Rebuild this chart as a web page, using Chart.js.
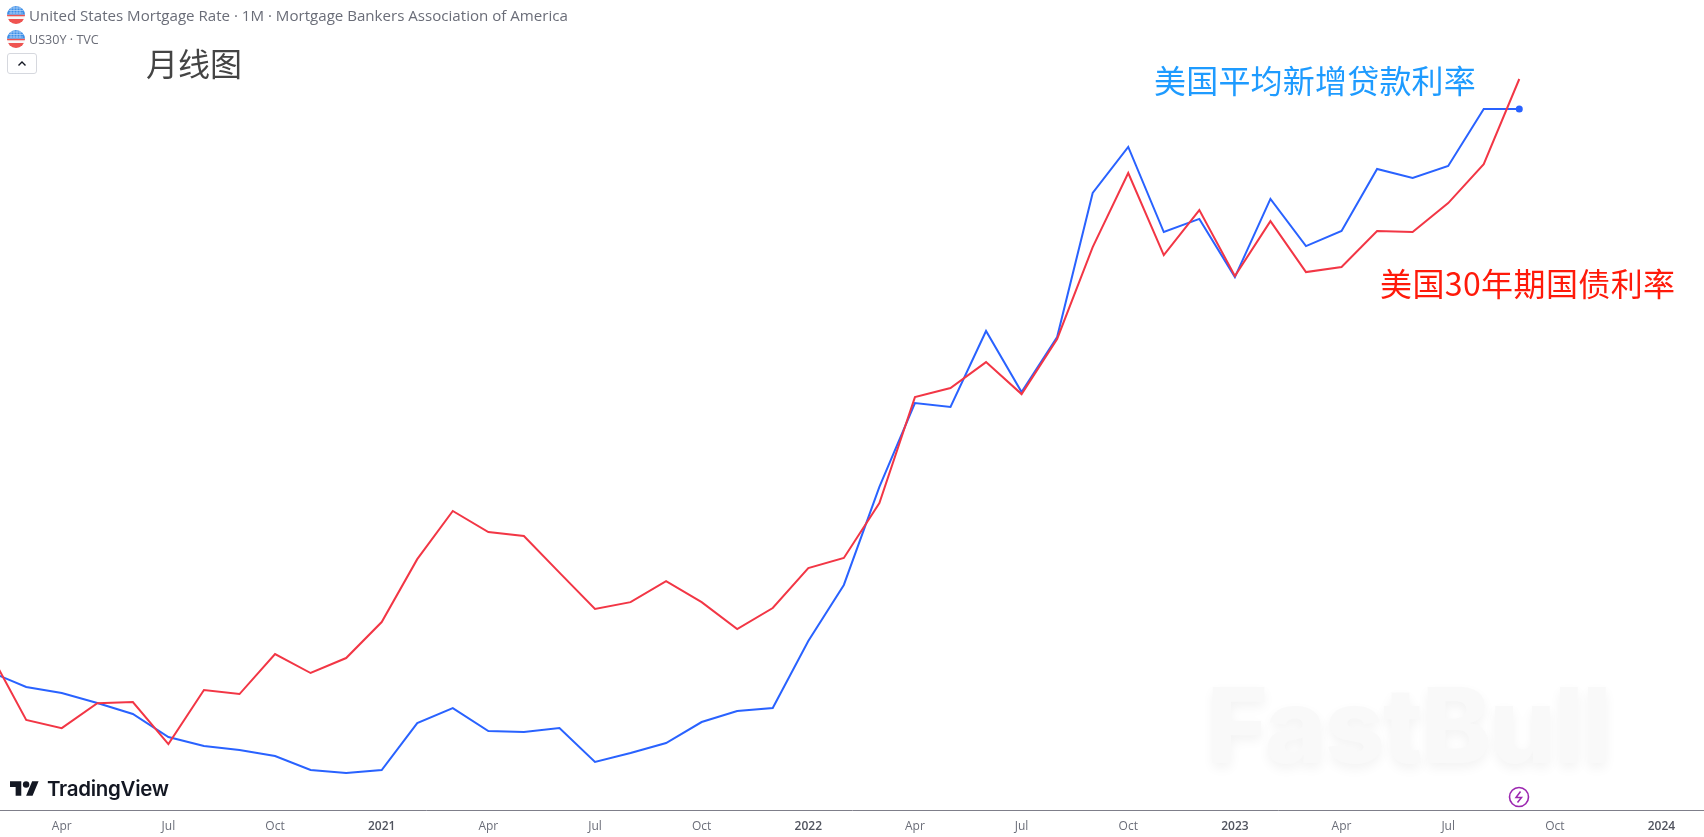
<!DOCTYPE html>
<html lang="zh">
<head>
    <title>US Mortgage Rate vs US30Y</title>
    <meta charset="utf-8" />
    <script src="https://cdn.jsdelivr.net/npm/chart.js"></script>
    <style>
        html, body { margin: 0; padding: 0; background: #fff; overflow: hidden; }
        #wrap { position: relative; width: 1704px; height: 837px; font-family: "Open Sans", "Noto Sans", sans-serif; }
        #chart { position: absolute; left: 0; top: 0; }
        .abs { position: absolute; white-space: nowrap; }
        .cjk { font-family: "Noto Sans CJK SC", sans-serif; font-size: 32px; line-height: 40px; }
        #watermark { left: 1207px; top: 660px; font-family: Inter, sans-serif; font-weight: 800; font-size: 104px; line-height: 130px;
                     color: #f9f9f9; text-shadow: 0 5px 12px #f3f3f3; letter-spacing: -1.4px; }
        #btn { left: 7px; top: 53px; width: 28px; height: 19px; border: 1px solid #d6d8de; border-radius: 3px; }
    </style>
</head>
<body>
<div id="wrap">
    <!-- marca de agua va debajo del canvas -->
    <div class="abs" id="watermark">FastBull</div>
    <canvas id="chart" width="1704" height="837"></canvas>

    <svg class="abs" style="left:7px;top:6px" width="18" height="18" viewBox="0 0 18 18"><use href="#flag"/></svg>
    <svg class="abs" style="left:7px;top:30px" width="18" height="18" viewBox="0 0 18 18">
        <defs>
            <clipPath id="round"><circle cx="9" cy="9" r="9"/></clipPath>
            <g id="flag" clip-path="url(#round)">
                <rect width="18" height="18" fill="#f7f7f7"/>
                <rect y="11" width="18" height="2.4" fill="#f7f7f7"/>
                <rect y="13" width="18" height="5" fill="#ef5350"/>
                <rect y="8.6" width="18" height="1.7" fill="#ef5350"/>
                <rect width="18" height="8.6" fill="#3d8fe8"/>
                <path d="M2 2h14M2 4.5h14M2 7h14M4 0v8M7 0v8M10 0v8M13 0v8" stroke="#cfe3fb" stroke-width=".6"/>
            </g>
        </defs>
        <use href="#flag"/>
    </svg>
    <div class="abs" style="left:29px;top:5px;font-size:15.1px;line-height:20px;color:#6a6d78">United States Mortgage Rate · 1M · Mortgage Bankers Association of America</div>
    <div class="abs" style="left:29px;top:31px;font-size:12.6px;line-height:18px;color:#6a6d78">US30Y · TVC</div>
    <div class="abs" id="btn">
        <svg width="28" height="19" viewBox="0 0 28 19"><path d="M10.5 11.5l3.5-3.5 3.5 3.5" fill="none" stroke="#131722" stroke-width="1.4"/></svg>
    </div>

    <div class="abs cjk" style="left:146px;top:42px;color:#444">月线图</div>
    <div class="abs cjk" style="left:1154px;top:59px;color:#1e9bff;letter-spacing:.2px">美国平均新增贷款利率</div>
    <div class="abs cjk" style="left:1380px;top:262px;color:#ff1a0a;letter-spacing:.4px">美国30年期国债利率</div>

    <svg class="abs" style="left:10px;top:778px" width="29" height="21" viewBox="0 0 36 26">
        <path d="M14 22H7V11H0V4h14v18zM28 22h-8l7.500-18h8L28 22z" fill="#131722"/><circle cx="20" cy="8" r="4" fill="#131722"/>
    </svg>
    <div class="abs" style="left:47px;top:775px;font-family:Inter,sans-serif;font-weight:600;font-size:20.5px;line-height:28px;color:#131722;letter-spacing:-.3px">TradingView</div>

    <svg class="abs" style="left:1508px;top:786px" width="22" height="22" viewBox="0 0 22 22">
        <circle cx="11" cy="11" r="9.500" fill="#fff" stroke="#9c27b0" stroke-width="1.600"/>
        <path d="M12.500 5.500L8 11.500h5.500L9.500 16.500" fill="none" stroke="#9c27b0" stroke-width="1.500"/>
    </svg>
</div>

<script>
    // Meses de feb 2020 a sep 2023
    const months = [
        '2020-02','2020-03','2020-04','2020-05','2020-06','2020-07','2020-08','2020-09','2020-10','2020-11','2020-12',
        '2021-01','2021-02','2021-03','2021-04','2021-05','2021-06','2021-07','2021-08','2021-09','2021-10','2021-11','2021-12',
        '2022-01','2022-02','2022-03','2022-04','2022-05','2022-06','2022-07','2022-08','2022-09','2022-10','2022-11','2022-12',
        '2023-01','2023-02','2023-03','2023-04','2023-05','2023-06','2023-07','2023-08','2023-09'
    ];

    // Valores (estimados)
    const mortgageRate = [
        3.557,3.452,3.410,3.340,3.263,3.102,3.039,3.011,2.969,2.871,2.850,
        2.871,3.200,3.305,3.144,3.137,3.165,2.927,2.990,3.060,3.207,3.284,3.305,
        3.774,4.167,4.853,5.441,5.413,5.945,5.518,5.903,6.912,7.234,6.638,6.730,
        6.323,6.870,6.540,6.646,7.080,7.017,7.101,7.500,7.500
    ];
    const us30y = [
        1.665,1.317,1.274,1.406,1.412,1.190,1.475,1.454,1.665,1.565,1.644,
        1.834,2.166,2.420,2.309,2.288,2.095,1.903,1.939,2.050,1.939,1.797,1.908,
        2.119,2.172,2.462,3.021,3.069,3.206,3.037,3.328,3.813,4.204,3.771,4.008,
        3.660,3.950,3.681,3.708,3.898,3.892,4.045,4.251,4.700
    ];

    // Una etiqueta cada 3 meses, desde abr 2020
    const tickLabels = ['Apr','Jul','Oct','2021','Apr','Jul','Oct','2022','Apr','Jul','Oct','2023','Apr','Jul','Oct','2024'];

    // Eje x: meses desde ene 2020 (ene 2020 = 0)
    const toPoints = values => values.map((v, i) => ({ x: i + 1, y: v, month: months[i] }));
    const isYear = label => /^\d{4}$/.test(label);

    new Chart(document.getElementById('chart'), {
        type: 'line',
        data: {
            datasets: [
                { label: 'US30Y', data: toPoints(us30y), yAxisID: 'yBond', borderColor: '#F23645', borderWidth: 2, pointRadius: 0, tension: 0 },
                { label: 'Mortgage Rate', data: toPoints(mortgageRate), yAxisID: 'yRate', borderColor: '#2962FF', backgroundColor: '#2962FF', borderWidth: 2,
                  pointRadius: ctx => ctx.dataIndex === mortgageRate.length - 1 ? 3.5 : 0, pointBorderWidth: 0, tension: 0 }
            ]
        },
        options: {
            responsive: false,
            animation: false,
            layout: { padding: 0, autoPadding: false },
            plugins: { legend: { display: false }, tooltip: { enabled: false } },
            scales: {
                x: {
                    type: 'linear',
                    bounds: 'data',
                    min: 1.263,
                    max: 49.196,
                    grid: { display: false },
                    border: { display: true, color: '#7f7f8a', width: 1 },
                    afterBuildTicks: s => { s.ticks = tickLabels.map((t, i) => ({ value: (i + 1) * 3 })); },
                    afterFit: s => { s.height = 27; s.paddingLeft = 0; s.paddingRight = 0; },
                    ticks: {
                        autoSkip: false,
                        maxRotation: 0,
                        padding: 1,
                        callback: v => tickLabels[v / 3 - 1],
                        color: ctx => isYear(ctx.tick.label) ? '#50535e' : '#6a6d78',
                        font: ctx => ({ family: '"Open Sans", "Noto Sans", sans-serif', size: 12, weight: isYear(ctx.tick && ctx.tick.label) ? '600' : '400' })
                    }
                },
                // Cada serie en su propia escala oculta, como en TradingView
                yRate: { type: 'linear', bounds: 'data', display: false, min: 2.591, max: 8.263 },
                yBond: { type: 'linear', bounds: 'data', display: false, min: 0.842, max: 5.117 }
            }
        }
    });
</script>
</body>
</html>
